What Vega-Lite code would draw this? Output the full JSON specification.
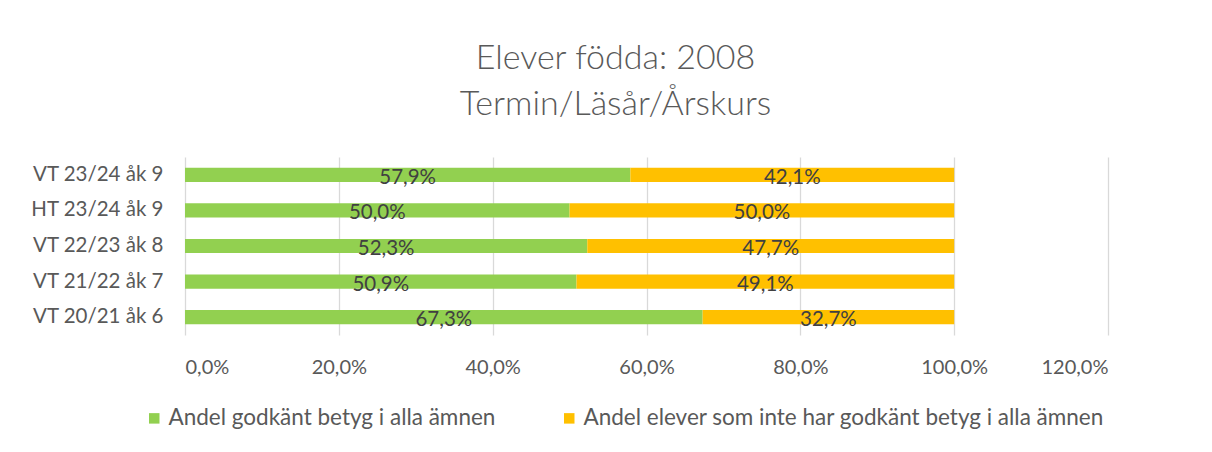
{
  "$schema": "https://vega.github.io/schema/vega-lite/v6.json",
  "width": 923,
  "height": 178,
  "autosize": "none",
  "padding": {"left": 185, "top": 157, "right": 104, "bottom": 117},
  "background": "white",
  "config": {
    "font": "Lato",
    "view": {"stroke": null},
    "locale": {"number": {"decimal": ",", "thousands": " ", "grouping": [3], "currency": ["", " kr"]}}
  },
  "title": {
    "text": ["Elever födda: 2008", "Termin/Läsår/Årskurs"],
    "fontSize": 34,
    "fontWeight": 300,
    "color": "#595959",
    "lineHeight": 46,
    "anchor": "middle",
    "frame": "group",
    "dx": -31,
    "offset": 35
  },
  "data": {
    "values": [
      {"termin": "VT 23/24 åk 9", "serie": "Andel godkänt betyg i alla ämnen", "ordning": 1, "andel": 0.579},
      {"termin": "VT 23/24 åk 9", "serie": "Andel elever som inte har godkänt betyg i alla ämnen", "ordning": 2, "andel": 0.421},
      {"termin": "HT 23/24 åk 9", "serie": "Andel godkänt betyg i alla ämnen", "ordning": 1, "andel": 0.5},
      {"termin": "HT 23/24 åk 9", "serie": "Andel elever som inte har godkänt betyg i alla ämnen", "ordning": 2, "andel": 0.5},
      {"termin": "VT 22/23 åk 8", "serie": "Andel godkänt betyg i alla ämnen", "ordning": 1, "andel": 0.523},
      {"termin": "VT 22/23 åk 8", "serie": "Andel elever som inte har godkänt betyg i alla ämnen", "ordning": 2, "andel": 0.477},
      {"termin": "VT 21/22 åk 7", "serie": "Andel godkänt betyg i alla ämnen", "ordning": 1, "andel": 0.509},
      {"termin": "VT 21/22 åk 7", "serie": "Andel elever som inte har godkänt betyg i alla ämnen", "ordning": 2, "andel": 0.491},
      {"termin": "VT 20/21 åk 6", "serie": "Andel godkänt betyg i alla ämnen", "ordning": 1, "andel": 0.673},
      {"termin": "VT 20/21 åk 6", "serie": "Andel elever som inte har godkänt betyg i alla ämnen", "ordning": 2, "andel": 0.327}
    ]
  },
  "encoding": {
    "y": {
      "field": "termin",
      "type": "nominal",
      "sort": ["VT 23/24 åk 9", "HT 23/24 åk 9", "VT 22/23 åk 8", "VT 21/22 åk 7", "VT 20/21 åk 6"],
      "scale": {"paddingInner": 0.6, "paddingOuter": 0.3},
      "axis": {
        "title": null,
        "ticks": false,
        "domain": false,
        "labelFontSize": 20.5,
        "labelColor": "#595959",
        "labelPadding": 22,
        "labelLimit": 0
      }
    },
    "x": {
      "field": "andel",
      "type": "quantitative",
      "stack": "zero",
      "scale": {"domain": [0, 1.2], "nice": false},
      "axis": {
        "title": null,
        "values": [0, 0.2, 0.4, 0.6, 0.8, 1.0, 1.2],
        "format": ".1%",
        "ticks": false,
        "domain": false,
        "grid": true,
        "gridColor": "#d9d9d9",
        "gridWidth": 1.3,
        "labelFontSize": 20,
        "labelColor": "#595959",
        "labelPadding": 22
      }
    },
    "order": {"field": "ordning", "type": "quantitative"}
  },
  "layer": [
    {
      "mark": {"type": "bar"},
      "encoding": {
        "color": {
          "field": "serie",
          "type": "nominal",
          "sort": ["Andel godkänt betyg i alla ämnen", "Andel elever som inte har godkänt betyg i alla ämnen"],
          "scale": {
            "domain": ["Andel godkänt betyg i alla ämnen", "Andel elever som inte har godkänt betyg i alla ämnen"],
            "range": ["#92D050", "#FFC000"]
          },
          "legend": {
            "title": null,
            "orient": "none",
            "direction": "horizontal",
            "legendX": -42,
            "legendY": 250,
            "symbolType": "square",
            "symbolSize": 110,
            "symbolStrokeWidth": 0,
            "labelFontSize": 22.5,
            "labelColor": "#595959",
            "labelLimit": 0,
            "labelOffset": 3,
            "columnPadding": 62
          }
        }
      }
    },
    {
      "mark": {"type": "text", "fontSize": 20.5, "color": "#404040", "dy": 3},
      "encoding": {
        "x": {"field": "andel", "type": "quantitative", "stack": "zero", "bandPosition": 0.5},
        "text": {"field": "andel", "type": "quantitative", "format": ".1%"}
      }
    }
  ]
}
